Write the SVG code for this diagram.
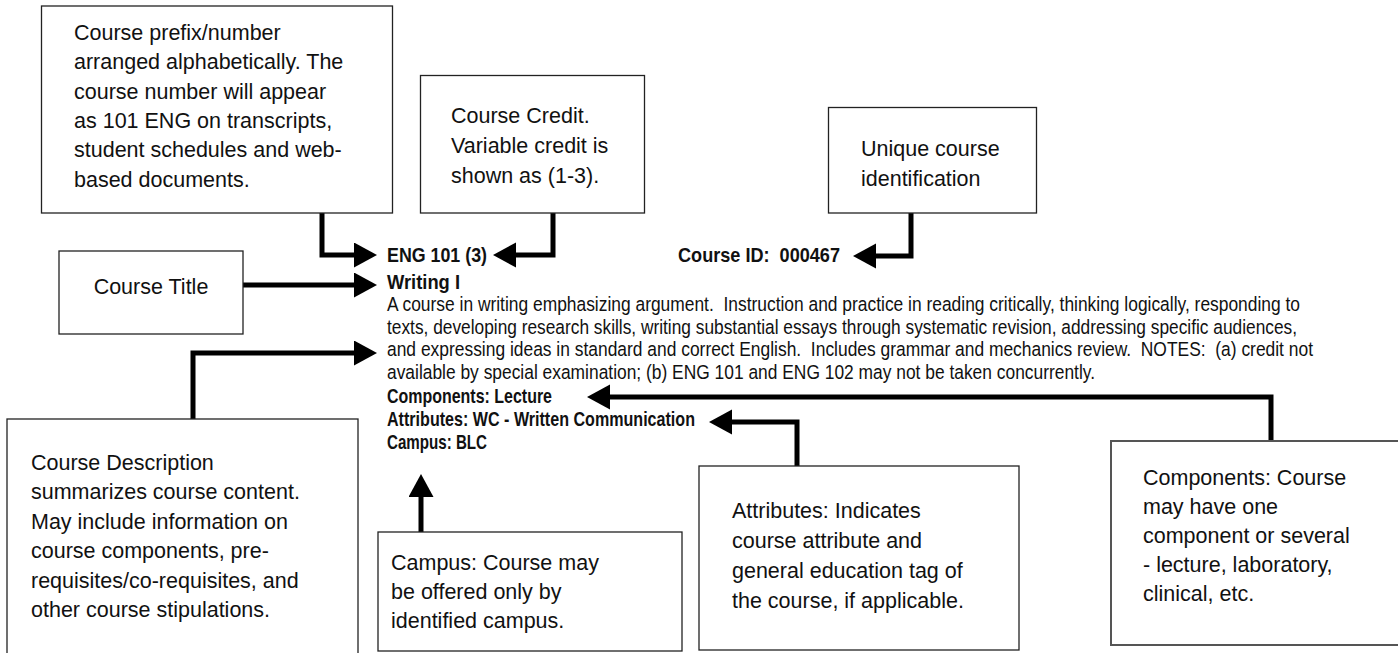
<svg xmlns="http://www.w3.org/2000/svg" width="1398" height="653" viewBox="0 0 1398 653">
<style>
.box{fill:#fff;stroke:#222;stroke-width:1.3}
.bt{font-family:"Liberation Sans",Arial,sans-serif;font-size:21.5px;fill:#111}
.hd{font-family:"Liberation Sans Narrow","Liberation Sans",Arial,sans-serif;font-weight:bold;font-size:21px;fill:#111;white-space:pre}
.ds{font-family:"Liberation Sans Narrow","Liberation Sans",Arial,sans-serif;font-size:20.5px;fill:#111;white-space:pre}
.con{fill:none;stroke:#000;stroke-width:5;stroke-linejoin:miter;stroke-linecap:butt;marker-end:url(#ah)}
</style>
<defs>
<marker id="ah" markerUnits="userSpaceOnUse" markerWidth="24" markerHeight="26" refX="0" refY="12.5" orient="auto" viewBox="0 0 24 26">
<path d="M0,0 L23,12.5 L0,25 z" fill="#000"/>
</marker>
</defs>
<rect width="1398" height="653" fill="#fff"/>

<g id="course-listing">
<text class="hd" x="387" y="262" textLength="100" lengthAdjust="spacingAndGlyphs">ENG 101 (3)</text>
<text class="hd" x="678" y="262" textLength="162" lengthAdjust="spacingAndGlyphs">Course ID:  000467</text>
<text class="hd" x="387" y="289" textLength="73" lengthAdjust="spacingAndGlyphs">Writing I</text>
<text class="ds" x="387" y="311" textLength="913" lengthAdjust="spacingAndGlyphs">A course in writing emphasizing argument.  Instruction and practice in reading critically, thinking logically, responding to</text>
<text class="ds" x="387" y="333.5" textLength="910" lengthAdjust="spacingAndGlyphs">texts, developing research skills, writing substantial essays through systematic revision, addressing specific audiences,</text>
<text class="ds" x="387" y="356" textLength="926" lengthAdjust="spacingAndGlyphs">and expressing ideas in standard and correct English.  Includes grammar and mechanics review.  NOTES:  (a) credit not</text>
<text class="ds" x="387" y="378.5" textLength="708" lengthAdjust="spacingAndGlyphs">available by special examination; (b) ENG 101 and ENG 102 may not be taken concurrently.</text>
<text class="hd" x="387" y="403" textLength="165" lengthAdjust="spacingAndGlyphs">Components: Lecture</text>
<text class="hd" x="387" y="426" textLength="308" lengthAdjust="spacingAndGlyphs">Attributes: WC - Written Communication</text>
<text class="hd" x="387" y="449" textLength="100" lengthAdjust="spacingAndGlyphs">Campus: BLC</text>
</g>

<g id="connectors">
<path class="con" d="M322,213 V255 H354"/>
<path class="con" d="M553,213 V255 H516"/>
<path class="con" d="M911,213 V256 H876"/>
<path class="con" d="M243,285 H354"/>
<path class="con" d="M193,419 V353 H354"/>
<path class="con" d="M1271,441 V397 H610"/>
<path class="con" d="M797,466 V422 H732"/>
<path class="con" d="M421,532 V497"/>
</g>

<g id="node-prefix">
<rect class="box" x="41.5" y="6" width="351" height="207"/>
<text class="bt" x="74" y="40">Course prefix/number</text>
<text class="bt" x="74" y="69.3">arranged alphabetically. The</text>
<text class="bt" x="74" y="98.6">course number will appear</text>
<text class="bt" x="74" y="127.9">as 101 ENG on transcripts,</text>
<text class="bt" x="74" y="157.2">student schedules and web-</text>
<text class="bt" x="74" y="186.5">based documents.</text>
</g>

<g id="node-credit">
<rect class="box" x="420.5" y="75.5" width="224" height="137.5"/>
<text class="bt" x="451" y="123">Course Credit.</text>
<text class="bt" x="451" y="153">Variable credit is</text>
<text class="bt" x="451" y="183">shown as (1-3).</text>
</g>

<g id="node-unique">
<rect class="box" x="828.5" y="107.5" width="208" height="105.5"/>
<text class="bt" x="861" y="156">Unique course</text>
<text class="bt" x="861" y="186">identification</text>
</g>

<g id="node-title">
<rect class="box" x="59" y="251" width="184" height="83"/>
<text class="bt" x="151" y="294" text-anchor="middle">Course Title</text>
</g>

<g id="node-description">
<rect class="box" x="7" y="419" width="351" height="245"/>
<text class="bt" x="31" y="470">Course Description</text>
<text class="bt" x="31" y="499.4">summarizes course content.</text>
<text class="bt" x="31" y="528.8">May include information on</text>
<text class="bt" x="31" y="558.2">course components, pre-</text>
<text class="bt" x="31" y="587.6">requisites/co-requisites, and</text>
<text class="bt" x="31" y="617">other course stipulations.</text>
</g>

<g id="node-campus">
<rect class="box" x="378" y="532" width="304" height="119"/>
<text class="bt" x="391" y="570">Campus: Course may</text>
<text class="bt" x="391" y="599">be offered only by</text>
<text class="bt" x="391" y="628">identified campus.</text>
</g>

<g id="node-attributes">
<rect class="box" x="699" y="466" width="320" height="184"/>
<text class="bt" x="732" y="518">Attributes: Indicates</text>
<text class="bt" x="732" y="548">course attribute and</text>
<text class="bt" x="732" y="578">general education tag of</text>
<text class="bt" x="732" y="608">the course, if applicable.</text>
</g>

<g id="node-components">
<rect class="box" x="1111" y="441" width="300" height="204" style="stroke:#555;stroke-width:2"/>
<text class="bt" x="1143" y="485">Components: Course</text>
<text class="bt" x="1143" y="514">may have one</text>
<text class="bt" x="1143" y="543">component or several</text>
<text class="bt" x="1143" y="572">- lecture, laboratory,</text>
<text class="bt" x="1143" y="601">clinical, etc.</text>
</g>
</svg>
